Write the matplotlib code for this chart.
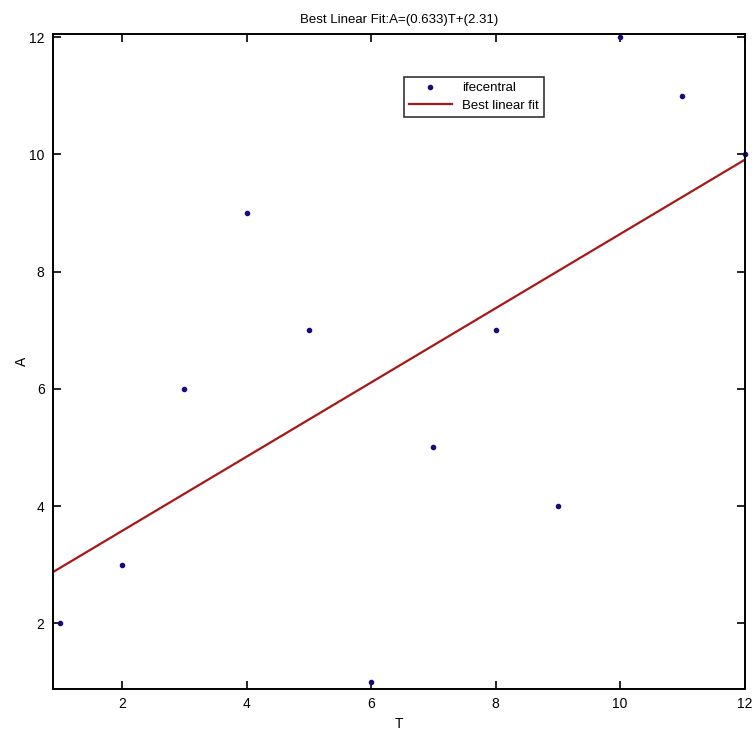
import numpy as np
import matplotlib
matplotlib.use("Agg")
import matplotlib.pyplot as plt

# Donnees
T = [1, 2, 3, 4, 5, 6, 7, 8, 9, 10, 11, 12]
A = [2, 3, 6, 9, 7, 1, 5, 7, 4, 12, 11, 10]

# Coefficients affiches dans le titre
slope = 0.633
intercept = 2.31

x_ticks = [2, 4, 6, 8, 10, 12]
y_ticks = [2, 4, 6, 8, 10, 12]

plt.rcParams['font.family'] = ['Liberation Sans', 'DejaVu Sans']

fig = plt.figure(figsize=(7.56, 7.35), dpi=100)
ax = fig.add_axes([0.070, 0.0626, 0.915, 0.891])

xlim = (0.89, 12.0)
ylim = (0.88, 12.05)

ax.plot(T, A, '.', color='#1c0a78', markersize=6, label='ifecentral', clip_on=False)

# droite de regression sur toute la largeur des axes
x_line = np.array(xlim)
ax.plot(x_line, slope * x_line + intercept, '-', color='#a81818', linewidth=1.6,
        label='Best linear fit')

ax.set_xlim(*xlim)
ax.set_ylim(*ylim)
ax.set_xticks(x_ticks)
ax.set_yticks(y_ticks)
ax.tick_params(direction='in', top=True, right=True, length=6, width=1.2,
               labelsize=10, pad=6)
for sp in ax.spines.values():
    sp.set_linewidth(1.4)

ax.set_title('Best Linear Fit:A=(0.633)T+(2.31)', fontsize=9.5, pad=8)
ax.set_xlabel('T', fontsize=10, labelpad=4)
ax.set_ylabel('A', fontsize=10)
ax.yaxis.set_label_coords(-0.035, 0.5)

leg = ax.legend(loc='upper left', bbox_to_anchor=(0.498, 0.945), fontsize=9.5,
                frameon=True, fancybox=False, edgecolor='black',
                handlelength=3.2, borderpad=0.4, labelspacing=0.4)
leg.get_frame().set_linewidth(1.2)

fig.savefig('out.png', dpi=100)
